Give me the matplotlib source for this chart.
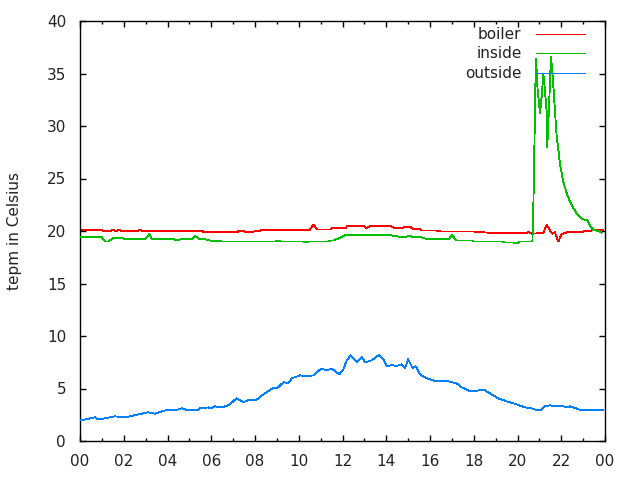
import matplotlib
matplotlib.use("Agg")
import matplotlib.pyplot as plt
from matplotlib.ticker import MultipleLocator, FuncFormatter

# ---- data (hours of day, temperature in Celsius) ----
boiler_h = [0, 1.0, 1.05, 1.4, 1.5, 1.65, 1.8, 1.9, 2.6, 2.75, 2.85, 5.6, 5.65, 7.2, 7.25, 7.5,
            7.55, 7.9, 8.0, 8.2, 8.3, 9.15, 10.5, 10.67, 10.85, 11.45, 11.5, 12.15, 12.2, 13.0,
            13.1, 13.25, 14.2, 14.35, 14.75, 14.85, 15.1, 15.2, 15.55, 15.6, 16.3, 16.5, 18.0,
            18.6, 19.3, 19.4, 19.5, 20.4, 20.5, 20.65, 21.18, 21.33, 21.5, 21.6, 21.7, 21.87,
            22.02, 22.3, 22.7, 22.86, 23.09, 23.3, 23.47, 23.9]
boiler_t = [20.1, 20.1, 20.0, 20.0, 20.1, 20.0, 20.1, 20.0, 20.0, 20.1, 20.0, 20.0, 19.9, 19.9,
            20.0, 20.0, 19.9, 19.9, 20.0, 20.0, 20.1, 20.1, 20.1, 20.6, 20.15, 20.15, 20.25,
            20.25, 20.45, 20.45, 20.25, 20.45, 20.45, 20.3, 20.3, 20.4, 20.4, 20.2, 20.2, 20.05,
            20.05, 19.95, 19.95, 19.85, 19.8, 19.85, 19.8, 19.8, 19.9, 19.75, 19.8, 20.6, 20.0,
            19.75, 19.9, 19.0, 19.7, 19.9, 19.9, 19.85, 20.0, 19.95, 20.15, 20.1]

inside_h = [0, 0.7, 0.8, 1.0, 1.14, 1.3, 1.5, 2.0, 2.06, 2.97, 3.17, 3.3, 4.3, 4.4, 4.6, 5.1,
            5.26, 5.45, 5.75, 5.9, 6.5, 8.95, 9.05, 9.15, 10.2, 10.35, 10.45, 11.35, 11.46, 11.6,
            11.7, 11.85, 12.1, 14.2, 14.6, 14.9, 15.0, 15.1, 15.3, 15.6, 15.9, 16.85, 17.0, 17.2,
            17.96, 18.0, 19.3, 19.4, 19.8, 20.0, 20.1, 20.68, 20.72, 20.77, 20.81, 20.85, 20.92,
            21.03, 21.11, 21.18, 21.23, 21.33, 21.36, 21.44, 21.53, 21.61, 21.71, 21.79, 21.87,
            21.94, 22.02, 22.09, 22.25, 22.4, 22.55, 22.7, 22.93, 23.19, 23.31, 23.47, 23.69, 23.85]
inside_t = [19.4, 19.4, 19.45, 19.4, 19.0, 19.0, 19.3, 19.3, 19.2, 19.2, 19.7, 19.2, 19.2, 19.1,
            19.2, 19.2, 19.55, 19.2, 19.2, 19.1, 19.0, 19.0, 19.1, 19.0, 19.0, 18.9, 19.0, 19.0,
            19.1, 19.1, 19.2, 19.3, 19.6, 19.6, 19.45, 19.45, 19.5, 19.5, 19.4, 19.4, 19.2, 19.2,
            19.62, 19.1, 19.1, 19.0, 19.0, 18.9, 18.9, 18.83, 19.0, 19.0, 21.8, 27.7, 33.4, 36.35,
            33.4, 31.2, 32.95, 35.0, 34.0, 31.5, 28.0, 31.8, 36.6, 34.7, 31.5, 29.0, 27.7, 26.4,
            25.5, 24.7, 23.6, 22.8, 22.2, 21.7, 21.14, 21.05, 20.5, 20.1, 20.0, 19.85]

outside_h = [0, 0.35, 0.69, 0.8, 1.0, 1.6, 2.06, 2.5, 3.1, 3.43, 3.9, 4.34, 4.65, 4.95, 5.33,
             5.49, 5.87, 6.0, 6.17, 6.47, 6.78, 6.96, 7.15, 7.47, 7.7, 8.05, 8.38, 8.84, 9.0,
             9.3, 9.52, 9.68, 10.06, 10.36, 10.67, 11.02, 11.28, 11.5, 11.86, 12.04, 12.19,
             12.37, 12.65, 12.88, 13.03, 13.33, 13.67, 13.87, 14.02, 14.25, 14.47, 14.7, 14.86,
             15.0, 15.2, 15.35, 15.54, 15.85, 16.3, 16.84, 17.22, 17.45, 17.83, 18.29, 18.51,
             18.82, 19.12, 19.5, 19.96, 20.34, 20.72, 20.88, 21.03, 21.26, 21.49, 21.79, 22.1,
             22.25, 22.4, 22.7, 22.9, 23.16, 23.9]
outside_t = [1.95, 2.1, 2.26, 2.07, 2.1, 2.35, 2.26, 2.45, 2.73, 2.6, 2.92, 2.92, 3.11, 2.92,
             2.92, 3.11, 3.2, 3.1, 3.3, 3.2, 3.4, 3.7, 4.07, 3.7, 3.9, 3.9, 4.44, 5.08, 5.0, 5.6,
             5.5, 5.97, 6.25, 6.16, 6.25, 6.89, 6.73, 6.89, 6.35, 6.83, 7.65, 8.16, 7.52, 8.0,
             7.49, 7.68, 8.19, 7.78, 7.11, 7.24, 7.14, 7.3, 6.95, 7.78, 6.95, 7.11, 6.35, 5.97,
             5.68, 5.68, 5.49, 5.11, 4.73, 4.83, 4.83, 4.44, 4.06, 3.78, 3.49, 3.2, 3.08, 2.92,
             2.92, 3.3, 3.4, 3.3, 3.3, 3.2, 3.3, 3.1, 2.92, 2.92, 2.92]

series_names = ["boiler", "inside", "outside"]
series_colors = ["#ff0000", "#00c000", "#0080ff"]
ylabel = "tepm in Celsius"

plt.rcParams['font.family'] = ['DejaVu Sans']
fig = plt.figure(figsize=(6.4, 4.8), dpi=100)
ax = fig.add_axes([80/640, 1-441/480, 525/640, 420/480])

LW = 0.6
data = [(boiler_h, boiler_t), (inside_h, inside_t), (outside_h, outside_t)]
legend_y = [0.969, 0.9238, 0.876]
for i, ((h, t), name, col) in enumerate(zip(data, series_names, series_colors)):
    ax.plot(h, t, color=col, lw=LW, antialiased=False, zorder=2 + 2*i)
    ax.plot([0.8686, 0.962], [legend_y[i]]*2, transform=ax.transAxes, color=col,
            lw=LW, antialiased=False, zorder=3 + 2*i)
    ax.text(0.841, legend_y[i], name, transform=ax.transAxes, ha='right', va='center',
            fontsize=11, color='#222222', zorder=10)

ax.set_xlim(0, 24)
ax.set_ylim(0, 40)
ax.xaxis.set_major_locator(MultipleLocator(2))
ax.xaxis.set_minor_locator(MultipleLocator(1))
ax.yaxis.set_major_locator(MultipleLocator(5))
ax.xaxis.set_major_formatter(FuncFormatter(lambda v, p: "%02d" % (int(round(v)) % 24)))
ax.tick_params(which='both', direction='in', top=True, right=True, labelsize=11,
               colors='black', labelcolor='#222222')
ax.tick_params(which='major', length=4.5, width=1)
ax.tick_params(which='minor', length=2.5, width=1)
ax.tick_params(axis='y', pad=10)
ax.tick_params(axis='x', pad=9)
for s in ax.spines.values():
    s.set_linewidth(1.0)
ax.set_ylabel(ylabel, fontsize=11, color='#222222', labelpad=18)

fig.savefig("out.png", dpi=100)
